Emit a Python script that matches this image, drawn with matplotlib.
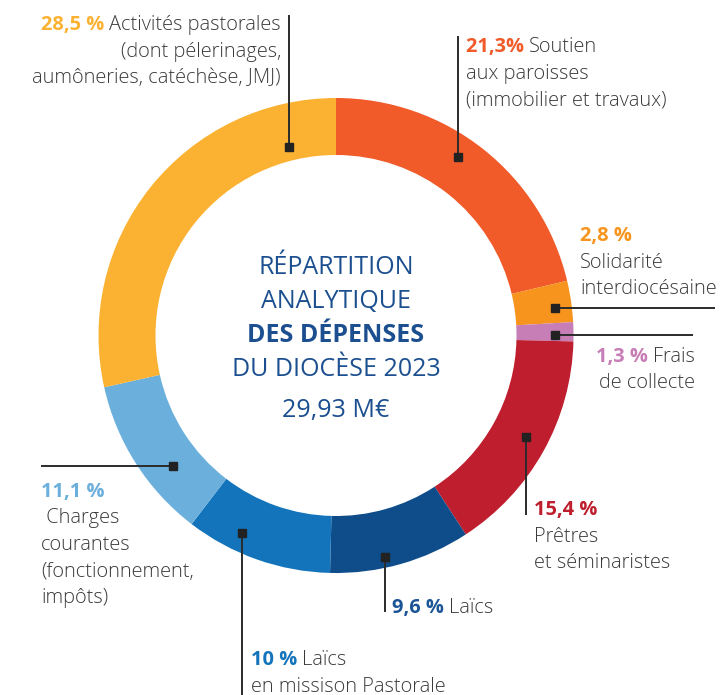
import matplotlib
matplotlib.use("Agg")
import matplotlib.pyplot as plt

plt.rcParams['font.family'] = ['Open Sans', 'DejaVu Sans']

# ---- data ----
categories = ["Soutien aux paroisses", "Solidarité interdiocésaine", "Frais de collecte",
              "Prêtres et séminaristes", "Laïcs", "Laïcs en mission Pastorale",
              "Charges courantes", "Activités pastorales"]
values = [21.3, 2.8, 1.3, 15.4, 9.6, 10.0, 11.1, 28.5]
pct_labels = ["21,3%", "2,8 %", "1,3 %", "15,4 %", "9,6 %", "10 %", "11,1 %", "28,5 %"]
colors = ["#F15A29", "#F7941D", "#C77DB5", "#BE1E2D", "#0E4C8A", "#1474BB", "#6BAFDC", "#FBB232"]

TEXT = "#3a3a3a"
TITLE = "#1B4F8F"
LW = 'light'

W, H = 721, 695
fig = plt.figure(figsize=(W / 100, H / 100), dpi=100)
ax = fig.add_axes([0, 0, 1, 1])

CX, CY, R, RW = 336, 335.5, 237.5, 57
ax.pie(values, colors=colors, startangle=-90, counterclock=True,
       center=(CX, CY), radius=R,
       wedgeprops=dict(width=RW, linewidth=0), frame=True)
ax.set_xlim(0, W)
ax.set_ylim(H, 0)
ax.set_aspect('equal')
ax.axis('off')

renderer = fig.canvas.get_renderer()
FS = 14.4


def line(x, y, parts, ha='left', fs=FS):
    """parts: list of (text, color, weight)"""
    objs = []
    widths = []
    for t, c, w in parts:
        o = ax.text(0, y, t, color=c, fontsize=fs, fontweight=w, va='center', ha='left')
        objs.append(o)
        bb = o.get_window_extent(renderer)
        widths.append(bb.width)
    total = sum(widths)
    if ha == 'left':
        x0 = x
    elif ha == 'right':
        x0 = x - total
    else:
        x0 = x - total / 2
    for o, w in zip(objs, widths):
        o.set_x(x0)
        x0 += w


def leader(pts):
    xs = [p[0] for p in pts]
    ys = [p[1] for p in pts]
    ax.plot(xs, ys, color="#2b2b2b", lw=1.4, solid_capstyle='butt', zorder=5)
    ax.plot([pts[0][0]], [pts[0][1]], marker='s', ms=5.5, color="#222222", zorder=6)


LS = 26.5
# Activités pastorales
c = colors[7]
line(281, 25, [(pct_labels[7] + " ", c, 'bold'), ("Activités pastorales", TEXT, LW)], 'right')
line(281, 25 + LS, [("(dont pélerinages,", TEXT, LW)], 'right')
line(281, 25 + 2 * LS, [("aumôneries, catéchèse, JMJ)", TEXT, LW)], 'right')
leader([(289, 147), (289, 15)])

# Soutien
c = colors[0]
line(466, 47, [(pct_labels[0] + " ", c, 'bold'), ("Soutien", TEXT, LW)])
line(466, 47 + LS, [("aux paroisses", TEXT, LW)])
line(466, 47 + 2 * LS, [("(immobilier et travaux)", TEXT, LW)])
leader([(458, 157), (458, 36)])

# Solidarité
c = colors[1]
line(580, 236, [(pct_labels[1], c, 'bold')])
line(580, 236 + LS, [("Solidarité", TEXT, LW)])
line(580, 236 + 2 * LS, [("interdiocésaine", TEXT, LW)])
leader([(555, 308), (715, 308)])

# Frais de collecte
c = colors[2]
line(695, 357, [(pct_labels[2] + " ", c, 'bold'), ("Frais", TEXT, LW)], 'right')
line(695, 357 + LS - 1, [("de collecte", TEXT, LW)], 'right')
leader([(555, 335), (693, 335)])

# Prêtres
c = colors[3]
line(534, 510, [(pct_labels[3], c, 'bold')])
line(534, 510 + LS, [("Prêtres", TEXT, LW)])
line(534, 510 + 2 * LS, [("et séminaristes", TEXT, LW)])
leader([(526, 437), (526, 515)])

# Laïcs
c = "#1B5596"
line(392, 608, [(pct_labels[4] + " ", c, 'bold'), ("Laïcs", TEXT, LW)])
leader([(385, 557), (385, 612)])

# Laïcs en mission
c = colors[5]
line(251, 660, [(pct_labels[5] + " ", c, 'bold'), ("Laïcs", TEXT, LW)])
line(251, 660 + LS, [("en missison Pastorale", TEXT, LW)])
leader([(242, 533), (242, 695)])

# Charges courantes
c = colors[6]
line(41, 492, [(pct_labels[6], c, 'bold')])
line(41, 492 + LS, [(" Charges", TEXT, LW)])
line(41, 492 + 2 * LS, [("courantes", TEXT, LW)])
line(41, 492 + 3 * LS, [("(fonctionnement,", TEXT, LW)])
line(41, 492 + 4 * LS, [("impôts)", TEXT, LW)])
leader([(173, 466), (41, 466)])

# Center title
CFS = 18
line(CX, 268, [("RÉPARTITION", TITLE, 'normal')], 'center', CFS)
line(CX, 302, [("ANALYTIQUE", TITLE, 'normal')], 'center', CFS)
line(CX, 336, [("DES DÉPENSES", TITLE, 'bold')], 'center', CFS)
line(CX, 370, [("DU DIOCÈSE 2023", TITLE, 'normal')], 'center', CFS)
line(CX, 410, [("29,93 M€", TITLE, 'normal')], 'center', CFS)

fig.savefig("out.png", dpi=100)
